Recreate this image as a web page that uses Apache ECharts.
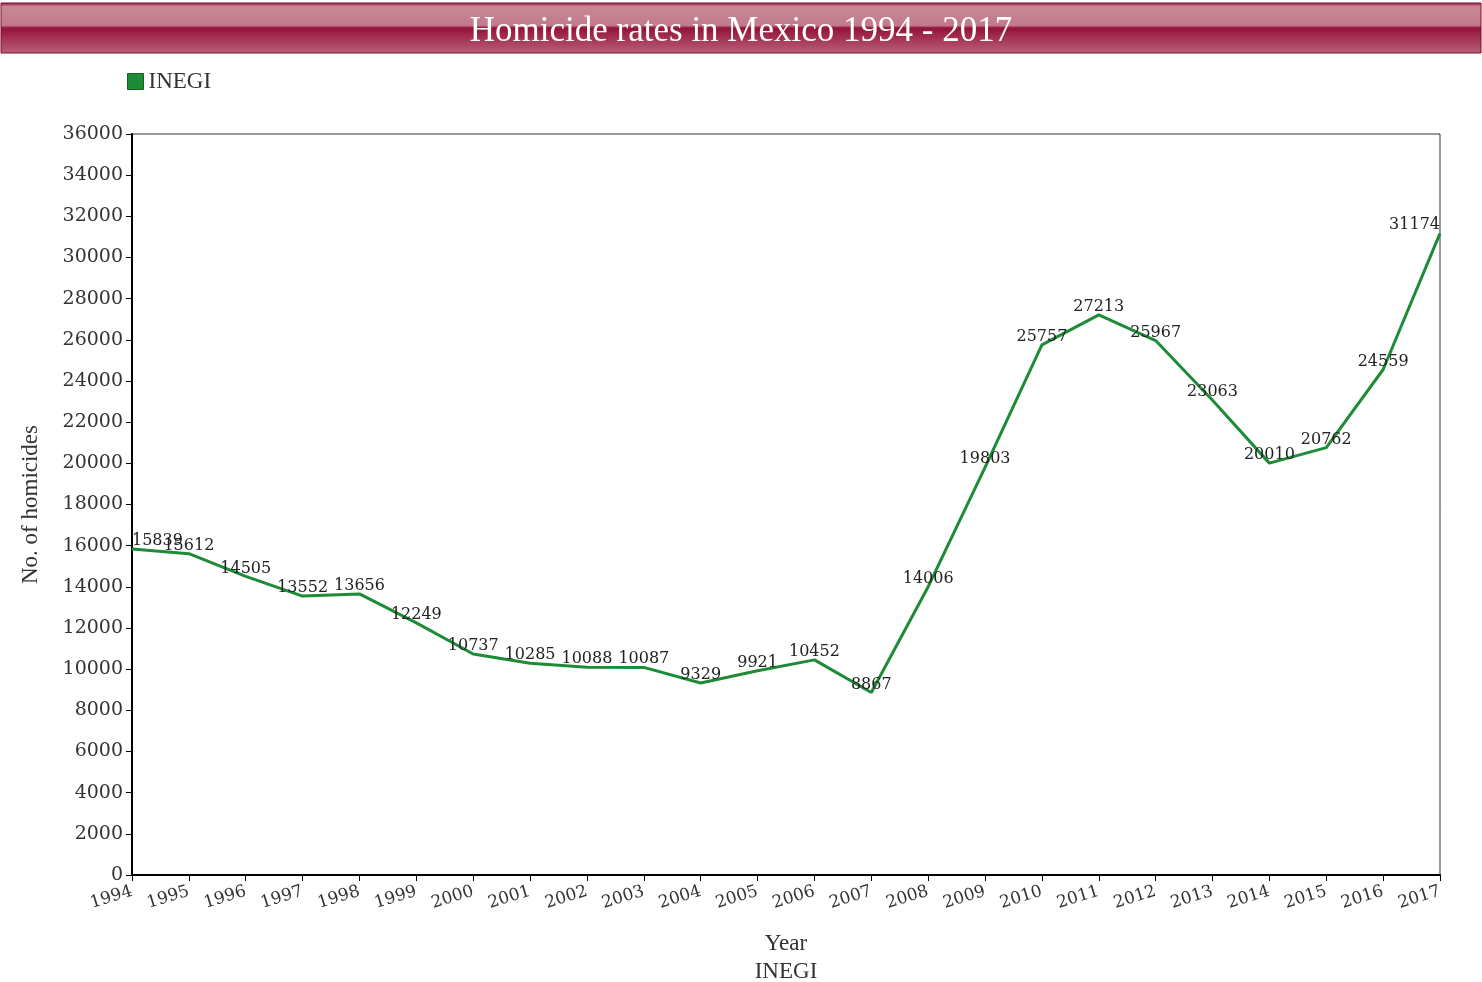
<!DOCTYPE html>
<html>
<head>
<meta charset="utf-8">
<script src="https://cdn.jsdelivr.net/npm/echarts@6/dist/echarts.min.js"></script>
<style>html,body{margin:0;padding:0;background:#fff}#c{width:1482px;height:982px}</style>
</head>
<body>
<div id="c"></div>
<script>
const years = ['1994','1995','1996','1997','1998','1999','2000','2001','2002','2003','2004','2005','2006','2007','2008','2009','2010','2011','2012','2013','2014','2015','2016','2017'];
const inegi = [15839,15612,14505,13552,13656,12249,10737,10285,10088,10087,9329,9921,10452,8867,14006,19803,25757,27213,25967,23063,20010,20762,24559,31174];
const titleText = 'Homicide rates in Mexico 1994 - 2017';
const seriesName = 'INEGI';
const yName = 'No. of homicides';
const xName = 'Year\nINEGI';

const serif = '"Liberation Serif", "DejaVu Serif", serif';
const dserif = '"DejaVu Serif", serif';
const lastIdx = inegi.length - 1;
const seriesData = inegi.map((v, i) => {
  if (i === 0) return {value: v, label: {align: 'left', offset: [4, 0]}};
  if (i === lastIdx) return {value: v, label: {align: 'right', offset: [-2, 0]}};
  return v;
});
const chart = echarts.init(document.getElementById('c'));
chart.setOption({
  animation: false,
  backgroundColor: '#fff',
  graphic: [{
    type: 'rect', z: 0,
    shape: {x: 1, y: 3, width: 1480, height: 50},
    style: {
      fill: new echarts.graphic.LinearGradient(0, 0, 0, 1, [
        {offset: 0, color: '#8c1032'},
        {offset: 0.08, color: '#c88896'},
        {offset: 0.45, color: '#c27a8c'},
        {offset: 0.5, color: '#93123a'},
        {offset: 0.75, color: '#a83a5a'},
        {offset: 1, color: '#b9607a'}
      ]),
      stroke: '#7e0c2c', lineWidth: 1
    }
  }],
  title: {
    text: titleText, left: 'center', top: 9,
    textStyle: {color: '#fff', fontFamily: serif, fontWeight: 'normal', fontSize: 35}
  },
  legend: {
    left: 122, top: 65, itemWidth: 16, itemHeight: 16, icon: 'rect', itemGap: 8,
    textStyle: {fontFamily: serif, fontSize: 23, color: '#333'},
    data: [{name: seriesName, itemStyle: {color: '#1e8c36', borderColor: '#155f25', borderWidth: 1}}]
  },
  grid: {left: 132, right: 42, top: 134, bottom: 107, show: true, borderColor: '#333', borderWidth: 1, outerBoundsMode: 'none', containLabel: false},
  xAxis: {
    type: 'category', data: years, boundaryGap: false,
    name: xName, nameLocation: 'middle', nameGap: 55,
    nameTextStyle: {fontFamily: serif, fontSize: 23, color: '#333', lineHeight: 28},
    axisLine: {lineStyle: {color: '#000', width: 2}},
    axisTick: {alignWithLabel: true, length: 6, lineStyle: {color: '#000'}},
    axisLabel: {rotate: 17, fontFamily: dserif, fontSize: 17, color: '#333', interval: 0, margin: 16}
  },
  yAxis: {
    type: 'value', min: 0, max: 36000, interval: 2000,
    name: yName, nameLocation: 'middle', nameGap: 90, nameRotate: 90,
    nameTextStyle: {fontFamily: serif, fontSize: 23, color: '#333'},
    axisLine: {show: true, lineStyle: {color: '#000', width: 2}},
    axisTick: {show: true, length: 6, lineStyle: {color: '#000'}},
    splitLine: {show: false},
    axisLabel: {fontFamily: dserif, fontSize: 19, color: '#333', margin: 9, formatter: v => String(v)}
  },
  series: [{
    name: seriesName, type: 'line', data: seriesData,
    symbol: 'circle', symbolSize: 0.1, showSymbol: true,
    lineStyle: {color: '#1e8c36', width: 3},
    itemStyle: {color: '#1e8c36'},
    label: {show: true, position: 'top', distance: 0, fontFamily: dserif, fontSize: 16, color: '#222'},
    labelLayout: {hideOverlap: false}
  }]
});
</script>
</body>
</html>
